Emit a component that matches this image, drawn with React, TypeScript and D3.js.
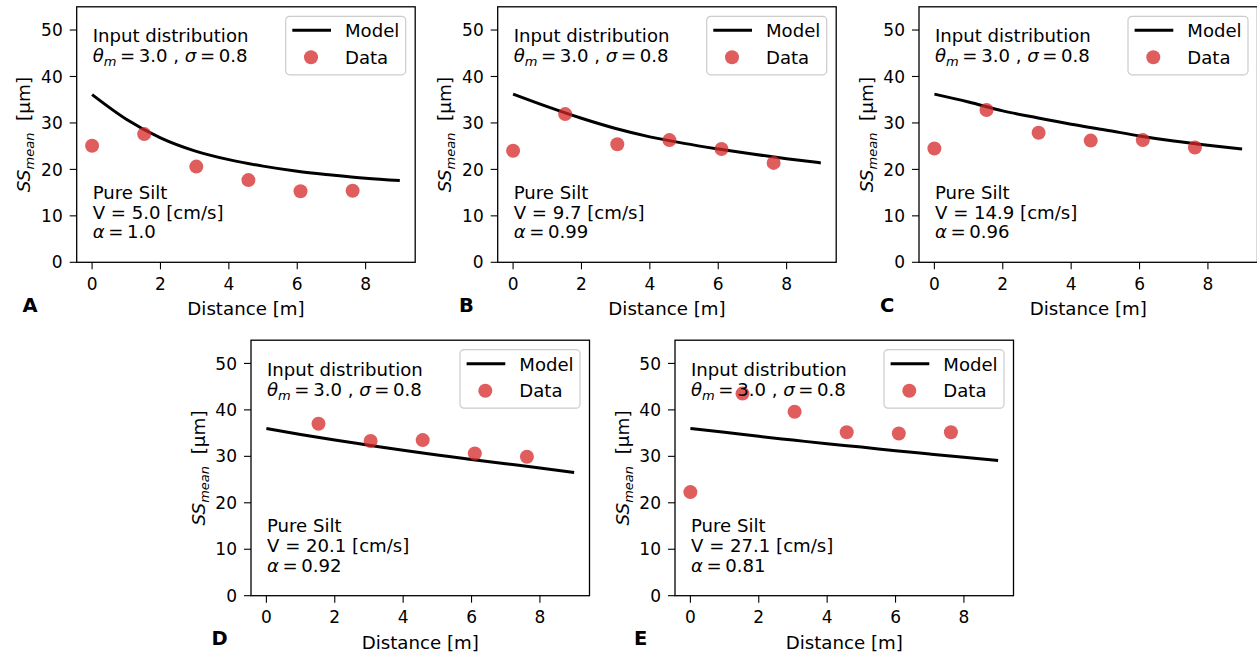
import React from "react";
import * as d3 from "d3";

// ---- data ----
const distances = [0, 1.524, 3.048, 4.572, 6.096, 7.62];
const modelDistances = [0, 1, 2, 3, 4, 5, 6, 7, 8, 9];

const dataA = [25.1, 27.6, 20.6, 17.7, 15.3, 15.4];
const dataB = [24.0, 31.9, 25.4, 26.3, 24.4, 21.4];
const dataC = [24.5, 32.8, 27.9, 26.2, 26.3, 24.7];
const dataD = [null, 37.0, 33.3, 33.5, 30.6, 29.9];
const dataE = [22.3, 43.5, 39.6, 35.2, 34.9, 35.2];

const modelA = [36.1, 30.8, 26.8, 24.0, 22.1, 20.7, 19.6, 18.8, 18.1, 17.6];
const modelB = [36.2, 33.5, 31.0, 28.8, 27.0, 25.6, 24.4, 23.3, 22.3, 21.4];
const modelC = [36.2, 34.5, 32.6, 31.1, 29.7, 28.5, 27.2, 26.1, 25.2, 24.4];
const modelD = [36.0, 34.7, 33.5, 32.4, 31.3, 30.3, 29.3, 28.4, 27.5, 26.5];
const modelE = [36.0, 35.2, 34.3, 33.5, 32.7, 32.0, 31.2, 30.5, 29.8, 29.1];

const panelLetters = ["A", "B", "C", "D", "E"];
const velocities = ["5.0", "9.7", "14.9", "20.1", "27.1"];
const alphas = ["1.0", "0.99", "0.96", "0.92", "0.81"];
const xTicks = [0, 2, 4, 6, 8];
const yTicks = [0, 10, 20, 30, 40, 50];

// ---- layout ----
const W = 1257;
const H = 655;
const PW = 338.5;
const PH = 255.5;
const FONT = "DejaVu Sans";
const RED = "#d62728";

const layouts = [
  { left: 76.7, top: 6.8, letterX: 22.5 },
  { left: 497.7, top: 6.8, letterX: 459 },
  { left: 919, top: 6.8, letterX: 880 },
  { left: 251, top: 340.2, letterX: 211.5 },
  { left: 675, top: 340.2, letterX: 634 },
];
const datasets = [dataA, dataB, dataC, dataD, dataE];
const models = [modelA, modelB, modelC, modelD, modelE];

const x = d3.scaleLinear().domain([-0.45, 9.45]).range([0, PW]);
const y = d3.scaleLinear().domain([0, 55]).range([PH, 0]);
const line = d3
  .line<number>()
  .x((_, i) => x(modelDistances[i]))
  .y((d) => y(d))
  .curve(d3.curveMonotoneX);

function Panel({ idx }: { idx: number }) {
  const L = layouts[idx];
  const data = datasets[idx];
  const model = models[idx];
  const tickFs = 17;
  const txtFs = 18.1;
  return (
    <g transform={`translate(${L.left},${L.top})`} fontFamily={FONT}>
      {/* model line */}
      <path d={line(model) || ""} fill="none" stroke="#000" strokeWidth={3} />
      {/* data */}
      {data.map((v, i) =>
        v == null ? null : (
          <circle key={i} cx={x(distances[i])} cy={y(v)} r={7} fill={RED} fillOpacity={0.75} />
        )
      )}
      {/* annotations */}
      <text x={16} y={35.5} fontSize={txtFs}>Input distribution</text>
      <text x={16} y={55.5} fontSize={txtFs}>
        <tspan fontStyle="italic">θ</tspan>
        <tspan fontStyle="italic" fontSize={13} dy={4}>m</tspan>
        <tspan dy={-4}>{"\u2009=\u20093.0 , "}</tspan>
        <tspan fontStyle="italic">σ</tspan>
        <tspan>{"\u2009=\u20090.8"}</tspan>
      </text>
      <text x={16} y={192} fontSize={txtFs}>Pure Silt</text>
      <text x={16} y={212} fontSize={txtFs}>{`V = ${velocities[idx]} [cm/s]`}</text>
      <text x={16} y={231.5} fontSize={txtFs}>
        <tspan fontStyle="italic">α</tspan>
        <tspan>{`\u2009=\u2009${alphas[idx]}`}</tspan>
      </text>
      {/* legend */}
      <g transform="translate(209,9.5)">
        <rect x={0} y={0} width={120} height={58.5} rx={4} fill="#fff" fillOpacity={0.8} stroke="#cccccc" strokeWidth={1.2} />
        <line x1={6.6} x2={45.3} y1={14} y2={14} stroke="#000" strokeWidth={3} />
        <text x={59.3} y={21} fontSize={txtFs}>Model</text>
        <circle cx={25.3} cy={41} r={7} fill={RED} fillOpacity={0.75} />
        <text x={59.3} y={47.7} fontSize={txtFs}>Data</text>
      </g>
      {/* frame */}
      <rect x={0} y={0} width={PW} height={PH} fill="none" stroke="#000" strokeWidth={1.3} />
      {/* x ticks */}
      {xTicks.map((t) => (
        <g key={t} transform={`translate(${x(t)},${PH})`}>
          <line y1={0} y2={7} stroke="#000" strokeWidth={1.1} />
          <text y={27.5} textAnchor="middle" fontSize={tickFs}>{t}</text>
        </g>
      ))}
      {/* y ticks */}
      {yTicks.map((t) => (
        <g key={t} transform={`translate(0,${y(t)})`}>
          <line x1={0} x2={-7} stroke="#000" strokeWidth={1.1} />
          <text x={-14} dy="0.36em" textAnchor="end" fontSize={tickFs}>{t}</text>
        </g>
      ))}
      {/* axis labels */}
      <text x={PW / 2} y={PH + 53} textAnchor="middle" fontSize={18.2}>Distance [m]</text>
      <text transform={`translate(-46.5,${PH / 2}) rotate(-90)`} textAnchor="middle" fontSize={18.4}>
        <tspan fontStyle="italic">SS</tspan>
        <tspan fontStyle="italic" fontSize={13} dy={4}>mean</tspan>
        <tspan dy={-4}>{"\u00a0\u00a0[μm]"}</tspan>
      </text>
      {/* panel letter */}
      <text x={L.letterX - L.left} y={PH + 49.4} fontSize={19.5} fontWeight="bold">
        {panelLetters[idx]}
      </text>
    </g>
  );
}

export default function App() {
  return (
    <svg
      width={W}
      height={H}
      viewBox={`0 0 ${W} ${H}`}
      style={{ position: "absolute", left: 0, top: 0, background: "#fff" }}
    >
      <rect width={W} height={H} fill="#fff" />
      {panelLetters.map((_, i) => (
        <Panel key={i} idx={i} />
      ))}
    </svg>
  );
}
